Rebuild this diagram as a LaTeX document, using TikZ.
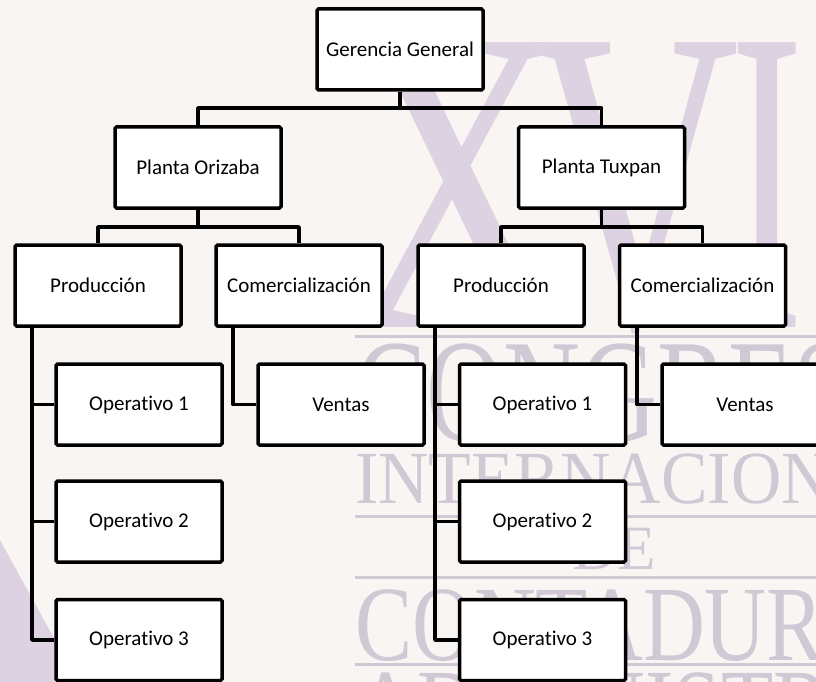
\documentclass[tikz,border=0pt]{standalone}
\usepackage{fontspec}
\setmainfont{Carlito}[Ligatures={NoCommon,NoContextual}]
\newfontfamily\wmfont{Liberation Serif}
\definecolor{bgc}{RGB}{248,245,242}
\definecolor{wmc}{RGB}{220,210,226}
\definecolor{wmt}{RGB}{208,200,213}
\tikzset{
  orgbox/.style={draw=black, fill=white, line width=3.5pt, rounded corners=1.5pt,
    minimum width=166pt, minimum height=81pt, inner sep=0pt,
    font=\fontsize{21}{25}\selectfont, text=black},
  link/.style={draw=black, line width=3.5pt, line join=round},
  wmtext/.style={inner sep=0pt, anchor=base west, text=wmt},
  wmbig/.style={inner sep=0pt, anchor=base west, text=wmc},
  wmrule/.style={draw=wmt, line width=3pt}
}
\begin{document}
\begin{tikzpicture}[x=1pt,y=-1pt]
\fill[bgc] (0,0) rectangle (816,682);
\useasboundingbox (0,0) rectangle (816,682);
% watermark
\begin{scope}
\clip (0,0) rectangle (816,682);
\fill[wmc] (0,540) -- (78,682) -- (0,682) -- cycle;
\node[wmbig] (wmX) at (345,327) {\scalebox{3.1}[4.35]{\wmfont\fontsize{100}{100}\selectfont X}};
\node[wmbig] (wmV) at (530,327) {\scalebox{2.9}[4.35]{\wmfont\fontsize{100}{100}\selectfont V}};
\node[wmbig] (wmI) at (730,327) {\scalebox{2.2}[4.35]{\wmfont\fontsize{100}{100}\selectfont I}};
\draw[wmrule] (355,336) -- (816,336);
\node[wmtext] (wm1) at (355,440) {\scalebox{0.73}[1]{\wmfont\fontsize{146}{146}\selectfont CONGRESO}};
\node[wmtext] (wm2) at (355,503) {\scalebox{0.93}[1]{\wmfont\fontsize{75}{75}\selectfont INTERNACIONAL}};
\draw[wmrule] (355,516) -- (816,516);
\node[wmtext] (wm3) at (572,569) {\wmfont\fontsize{63}{63}\selectfont DE};
\draw[wmrule] (355,577) -- (816,577);
\node[wmtext] (wm4) at (355,660) {\scalebox{0.8}[1]{\wmfont\fontsize{107}{107}\selectfont CONTADURIA}};
\draw[wmrule] (355,664) -- (816,664);
\node[wmtext] (wm5) at (355,743) {\scalebox{0.8}[1]{\wmfont\fontsize{107}{107}\selectfont ADMINISTRACION}};
\end{scope}
% boxes
\node[orgbox] (gg) at (400,49.5) {Gerencia General};
\node[orgbox] (po) at (198,167.5) {Planta Orizaba};
\node[orgbox] (pt) at (601.5,167.5) {Planta Tuxpan};
\node[orgbox] (prodL) at (98,285.5) {Producción};
\node[orgbox] (comL) at (299,285.5) {Comercialización};
\node[orgbox] (prodR) at (501,285.5) {Producción};
\node[orgbox] (comR) at (702.5,285.5) {Comercialización};
\node[orgbox] (op1L) at (139,404.5) {Operativo 1};
\node[orgbox] (op2L) at (139,521.5) {Operativo 2};
\node[orgbox] (op3L) at (139,640) {Operativo 3};
\node[orgbox] (venL) at (341,404.5) {Ventas};
\node[orgbox] (op1R) at (542.5,404.5) {Operativo 1};
\node[orgbox] (op2R) at (542.5,521.5) {Operativo 2};
\node[orgbox] (op3R) at (542.5,640) {Operativo 3};
\node[orgbox] (venR) at (745,404.5) {Ventas};
% buses
\coordinate (b1) at (400,108);
\coordinate (b2) at (198,227);
\coordinate (b3) at (601.5,227);
\draw[link] (gg.south) -- (b1);
\draw[link] (po.north) |- (b1) -| (pt.north);
\draw[link] (po.south) -- (b2);
\draw[link] (prodL.north) |- (b2) -| (comL.north);
\draw[link] (pt.south) -- (b3);
\draw[link] (prodR.north) |- (b3) -| (comR.north);
% spines
\coordinate (sl) at (32,0);
\coordinate (vl) at (233,0);
\coordinate (sr) at (435,0);
\coordinate (vr) at (637,0);
\draw[link] (prodL.south -| sl) |- (op3L.west);
\draw[link] (op1L.west) -- (op1L.west -| sl);
\draw[link] (op2L.west) -- (op2L.west -| sl);
\draw[link] (comL.south -| vl) |- (venL.west);
\draw[link] (prodR.south -| sr) |- (op3R.west);
\draw[link] (op1R.west) -- (op1R.west -| sr);
\draw[link] (op2R.west) -- (op2R.west -| sr);
\draw[link] (comR.south -| vr) |- (venR.west);
\end{tikzpicture}
\end{document}
